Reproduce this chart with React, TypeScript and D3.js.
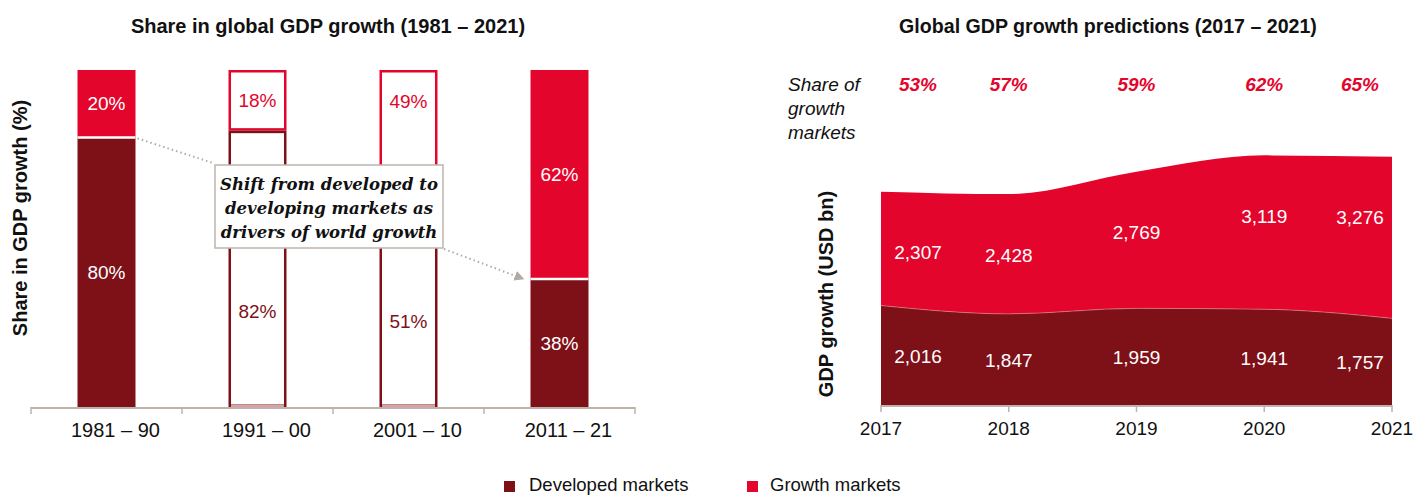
import React from "react";
import * as d3 from "d3";

// ---------- Data ----------
const periods = ["1981 – 90", "1991 – 00", "2001 – 10", "2011 – 21"];
const developedShare = [80, 82, 51, 38];
const growthShare = [20, 18, 49, 62];
const outlinedPeriods = ["1991 – 00", "2001 – 10"];

const years = ["2017", "2018", "2019", "2020", "2021"];
const developedGDP = [2016, 1847, 1959, 1941, 1757];
const growthGDP = [2307, 2428, 2769, 3119, 3276];
const growthMarketShare = [53, 57, 59, 62, 65];

const annotationLines = ["Shift from developed to", "developing markets as", "drivers of world growth"];
const shareLabelLines = ["Share of", "growth", "markets"];

// ---------- Styles ----------
const DARK = "#7e1018";
const RED = "#e3052b";
const GRAY = "#bcb3ab";
const FONT = "'Liberation Sans', Arial, Helvetica, sans-serif";
const fmt = d3.format(",");

export default function App() {
  // Left chart scales
  const xB = d3.scaleBand<string>().domain(periods).range([31, 635]).paddingInner(0.616).paddingOuter(0.308);
  const step = xB.step();
  const bw = xB.bandwidth();
  const yP = d3.scaleLinear().domain([0, 100]).range([407, 70]);

  // annotation box
  const box = { x: 215, y: 165, w: 228, h: 83 };
  const boxBottom = box.y + box.h;

  // Right chart scales
  const xY = d3.scalePoint<string>().domain(years).range([881, 1392]);
  const yG = d3.scaleLinear().domain([0, 6000]).range([405, 109]);
  const rows = years.map((yr, i) => ({ yr, dev: developedGDP[i], tot: developedGDP[i] + growthGDP[i] }));
  const devArea = d3.area<any>().x((d) => xY(d.yr)!).y0(yG(0)).y1((d) => yG(d.dev)).curve(d3.curveMonotoneX);
  const growArea = d3.area<any>().x((d) => xY(d.yr)!).y0((d) => yG(d.dev)).y1((d) => yG(d.tot)).curve(d3.curveMonotoneX);
  const devLine = d3.line<any>().x((d) => xY(d.yr)!).y((d) => yG(d.dev)).curve(d3.curveMonotoneX);
  const [rx0, rx1] = xY.range();
  const labelX = (yr: string) => Math.min(Math.max(xY(yr)!, rx0 + 37), rx1 - 32);

  // arrow anchors
  const startX = xB(periods[0])! + bw;
  const startY = yP(developedShare[0]);
  const endX = xB(periods[3])! - 7;
  const endY = yP(developedShare[3]);

  return (
    <svg width={1414} height={496} style={{ position: "absolute", left: 0, top: 0, display: "block" }} fontFamily={FONT}>
      <defs>
        <marker id="arrowHead" viewBox="0 0 10 10" refX="9" refY="5" markerWidth="5" markerHeight="5" orient="auto" markerUnits="strokeWidth">
          <path d="M0,0 L10,5 L0,10 z" fill="#b3aba3" />
        </marker>
      </defs>
      <rect width={1414} height={496} fill="#fff" />

      {/* ---------- Left chart ---------- */}
      <text x={328} y={33} textAnchor="middle" fontSize={20} fontWeight="bold" fill="#111">
        Share in global GDP growth (1981 – 2021)
      </text>
      <text transform="translate(27,218) rotate(-90)" textAnchor="middle" fontSize={20} fontWeight="bold" fill="#111">
        Share in GDP growth (%)
      </text>

      {periods.map((p, i) => {
        const x0 = xB(p)!;
        const yTop = yP(100);
        const ySplit = yP(developedShare[i]);
        const yBot = yP(0);
        const outlined = outlinedPeriods.includes(p);
        const sw = 2.5;
        // label positions
        let gY = (yTop + ySplit) / 2;
        let dY = (ySplit + yBot) / 2;
        if (outlined) {
          gY = Math.min(gY, yTop + 31);
          const overlapsBox = x0 < box.x + box.w && x0 + bw > box.x && dY > box.y - 12 && dY < boxBottom + 30;
          if (overlapsBox) dY = (boxBottom + yBot) / 2 - 16;
        }
        return (
          <g key={p}>
            {outlined ? (
              <>
                <rect x={x0 + sw / 2} y={yTop + sw / 2} width={bw - sw} height={ySplit - yTop - sw} fill="#fff" stroke={RED} strokeWidth={sw} />
                <rect x={x0 + sw / 2} y={ySplit + sw / 2} width={bw - sw} height={yBot - ySplit - sw} fill="#fff" stroke={DARK} strokeWidth={sw} />
                <line x1={x0 + sw} x2={x0 + bw - sw} y1={yBot - 1} y2={yBot - 1} stroke="#d9a0a5" strokeWidth={2} />
              </>
            ) : (
              <>
                <rect x={x0} y={yTop} width={bw} height={ySplit - yTop} fill={RED} />
                <rect x={x0} y={ySplit} width={bw} height={yBot - ySplit} fill={DARK} />
                <line x1={x0} x2={x0 + bw} y1={ySplit} y2={ySplit} stroke="#fff" strokeWidth={2.5} />
              </>
            )}
            <text x={x0 + bw / 2} y={gY} dy="0.35em" textAnchor="middle" fontSize={19} fill={outlined ? RED : "#fff"}>
              {growthShare[i]}%
            </text>
            <text x={x0 + bw / 2} y={dY} dy="0.35em" textAnchor="middle" fontSize={19} fill={outlined ? DARK : "#fff"}>
              {developedShare[i]}%
            </text>
          </g>
        );
      })}

      {/* left axis */}
      <line x1={31} x2={635} y1={408} y2={408} stroke={GRAY} strokeWidth={2} />
      {periods.map((p, i) => {
        const cx = xB(p)! + bw / 2;
        return (
          <g key={"t" + p}>
            {i === 0 && <line x1={cx - step / 2} x2={cx - step / 2} y1={407} y2={414} stroke={GRAY} strokeWidth={1.5} />}
            <line x1={cx + step / 2} x2={cx + step / 2} y1={407} y2={414} stroke={GRAY} strokeWidth={1.5} />
            <text x={cx + 9} y={437} textAnchor="middle" fontSize={20} fill="#111">
              {p}
            </text>
          </g>
        );
      })}

      {/* annotation */}
      <line x1={startX + 2} y1={startY + 1} x2={box.x - 2} y2={box.y - 2} stroke="#b3aba3" strokeWidth={2} strokeDasharray="1.5 3" />
      <line x1={box.x + box.w + 1} y1={boxBottom + 1} x2={endX} y2={endY} stroke="#b3aba3" strokeWidth={2} strokeDasharray="1.5 3" markerEnd="url(#arrowHead)" />
      <rect x={box.x} y={box.y} width={box.w} height={box.h} fill="#fff" stroke="#bdb5ad" strokeWidth={1.5} />
      {annotationLines.map((l, i) => (
        <text key={l} x={box.x + box.w / 2} y={box.y + 25 + i * 24} textAnchor="middle" fontSize={16.5} fontStyle="italic" fontWeight="bold" fontFamily="'DejaVu Serif', 'Liberation Serif', Georgia, serif" fill="#111">
          {l}
        </text>
      ))}

      {/* ---------- Right chart ---------- */}
      <text x={1108} y={33} textAnchor="middle" fontSize={19.6} fontWeight="bold" fill="#111">
        Global GDP growth predictions (2017 – 2021)
      </text>
      {shareLabelLines.map((l, i) => (
        <text key={l} x={788} y={91 + i * 24} fontSize={19} fontStyle="italic" fill="#111">
          {l}
        </text>
      ))}
      {years.map((yr, i) => (
        <text key={"s" + yr} x={labelX(yr)} y={91} textAnchor="middle" fontSize={19} fontStyle="italic" fontWeight="bold" fill={RED}>
          {growthMarketShare[i]}%
        </text>
      ))}
      <text transform="translate(833,294) rotate(-90)" textAnchor="middle" fontSize={20} fontWeight="bold" fill="#111">
        GDP growth (USD bn)
      </text>

      <path d={growArea(rows)!} fill={RED} />
      <path d={devArea(rows)!} fill={DARK} />
      <path d={devLine(rows)!} fill="none" stroke="#f08a94" strokeOpacity={0.6} strokeWidth={1} />

      {rows.map((r, i) => (
        <g key={"v" + r.yr}>
          <text x={labelX(r.yr)} y={yG(r.tot) + 61} dy="0.35em" textAnchor="middle" fontSize={19} fill="#fff">
            {fmt(growthGDP[i])}
          </text>
          <text x={labelX(r.yr)} y={(yG(r.dev) + yG(0)) / 2 + 1} dy="0.35em" textAnchor="middle" fontSize={19} fill="#fff">
            {fmt(developedGDP[i])}
          </text>
        </g>
      ))}

      <line x1={rx0} x2={rx1} y1={406} y2={406} stroke={GRAY} strokeWidth={2} />
      {years.map((yr) => (
        <g key={"x" + yr}>
          <line x1={xY(yr)} x2={xY(yr)} y1={405} y2={412} stroke={GRAY} strokeWidth={1.5} />
          <text x={xY(yr)} y={435} textAnchor="middle" fontSize={19} fill="#111">
            {yr}
          </text>
        </g>
      ))}

      {/* ---------- Legend ---------- */}
      <rect x={504} y={481} width={11} height={11} fill={DARK} />
      <text x={529} y={491} fontSize={18.5} fill="#111">Developed markets</text>
      <rect x={747} y={481} width={11} height={11} fill={RED} />
      <text x={770} y={491} fontSize={18.5} fill="#111">Growth markets</text>
    </svg>
  );
}
